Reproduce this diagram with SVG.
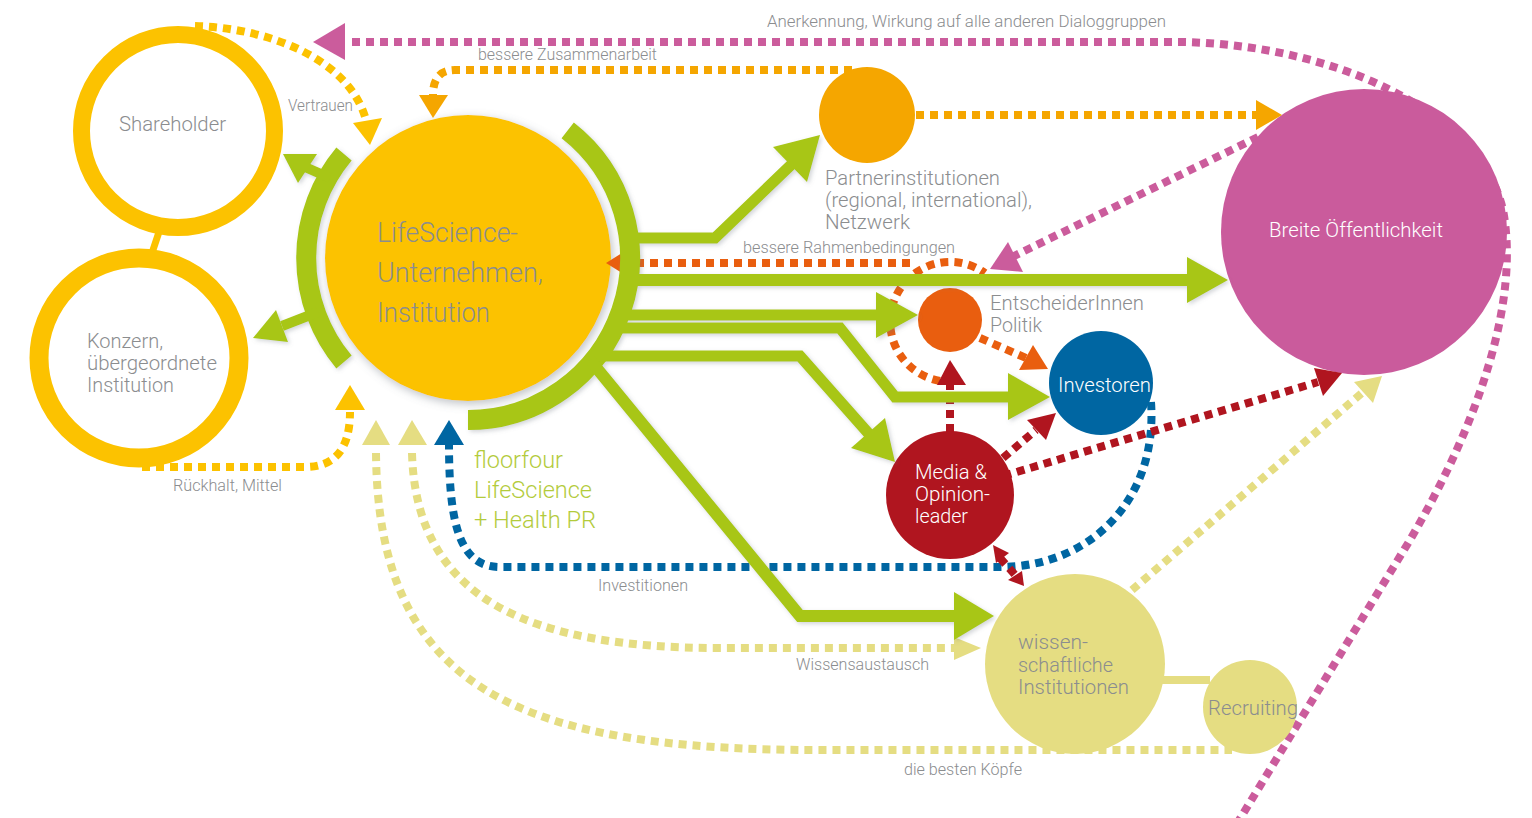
<svg xmlns="http://www.w3.org/2000/svg" width="1532" height="818" viewBox="0 0 1532 818">
<defs>
<style>
.t{font-family:Roboto,'Liberation Sans',Arial,sans-serif;font-weight:300;fill:#8b8d8f}
.lbl{font-size:16.5px}
.nd{font-size:20px}
.big{font-size:28px}
.wh{fill:#ffffff}
.gt{fill:#b3cb3c;font-size:23px}
.dot{fill:none;stroke-width:8;stroke-dasharray:8 6}
.pink{stroke:#cb5c9c}.pinkf{fill:#cb5c9c}
.amb{stroke:#f5a600}.ambf{fill:#f5a600}
.yel{stroke:#fcc200}.yelf{fill:#fcc200}
.lt{stroke:#e5dd82}.ltf{fill:#e5dd82}
.blu{stroke:#0066a2}.bluf{fill:#0066a2}
.org{stroke:#e95e0f}.orgf{fill:#e95e0f}
.red{stroke:#b0151f}.redf{fill:#b0151f}
.gs{fill:none;stroke:#a8c614;stroke-linejoin:miter}
.gf{fill:#a8c614}
</style>
<filter id="sh" x="-30%" y="-30%" width="160%" height="160%">
<feDropShadow dx="2" dy="3" stdDeviation="5" flood-color="#6f7780" flood-opacity="0.45"/>
</filter>
<filter id="gsh" x="-10%" y="-10%" width="120%" height="120%">
<feDropShadow dx="2" dy="2" stdDeviation="2" flood-color="#6f7780" flood-opacity="0.3"/>
</filter>
</defs>
<rect width="1532" height="818" fill="#ffffff"/>

<g id="connectors">
<g id="dotted-lines">
<path class="dot pink" d="M352 42 L1180 42 C1330 44 1480 110 1503 210 C1520 300 1480 420 1410 540 L1238 822"/>
<path class="dot pink" d="M1258 137 L1012 257"/>
<path class="dot amb" d="M852 70 L455 70 Q433 70 433 95"/>
<path class="dot amb" d="M916 115 L1256 115"/>
<path class="dot yel" d="M195 26 C270 28 350 60 366 120"/>
<path class="dot yel" d="M142 467 L305 467 Q350 467 350 412"/>
<path class="dot lt" d="M412 453 C416 600 530 648 720 648 L954 648"/>
<path class="dot lt" d="M376 453 C378 690 520 750 820 750 L1232 750"/>
<path class="dot lt" d="M1132 590 L1363 392"/>
<path class="dot blu" d="M1151 402 C1158 500 1090 567 1000 567 L500 567 C462 567 449 530 449 445"/>
<path class="dot org" d="M910 263 L622 263"/>
<path class="dot org" d="M940 381 A60 60 0 1 1 985 273"/>
<path class="dot org" d="M980 338 L1026 358"/>
<path class="dot red" d="M950 432 L950 385"/>
<path class="dot red" d="M1003 458 L1036 430"/>
<path class="dot red" d="M990 480 L1318 382"/>
<path class="dot red" d="M1000 558 L1016 576"/>
</g>
</g>

<g id="node-shareholder">
<circle cx="178" cy="131" r="96.5" fill="none" stroke="#fcc200" stroke-width="17"/>
<text class="t" x="119" y="131" font-size="21" textLength="107" lengthAdjust="spacingAndGlyphs">Shareholder</text>
</g>
<g id="node-konzern">
<line x1="159" y1="232" x2="152" y2="253" stroke="#fcc200" stroke-width="7"/>
<circle cx="139" cy="358" r="100" fill="none" stroke="#fcc200" stroke-width="19"/>
<text class="t nd" x="87" y="348" textLength="76" lengthAdjust="spacingAndGlyphs">Konzern,</text>
<text class="t nd" x="87" y="370" textLength="130" lengthAdjust="spacingAndGlyphs">übergeordnete</text>
<text class="t nd" x="87" y="392" textLength="87" lengthAdjust="spacingAndGlyphs">Institution</text>
</g>
<g id="node-lifescience">
<circle cx="468" cy="258" r="143" fill="#fcc200" filter="url(#sh)"/>
<text class="t big" x="377" y="242" textLength="141" lengthAdjust="spacingAndGlyphs">LifeScience-</text>
<text class="t big" x="377" y="282" textLength="166" lengthAdjust="spacingAndGlyphs">Unternehmen,</text>
<text class="t big" x="377" y="322" textLength="113" lengthAdjust="spacingAndGlyphs">Institution</text>
</g>
<g id="node-partner">
<circle cx="867" cy="115" r="48" fill="#f5a600"/>
<text class="t nd" x="825" y="185" textLength="175" lengthAdjust="spacingAndGlyphs">Partnerinstitutionen</text>
<text class="t nd" x="825" y="207" textLength="207" lengthAdjust="spacingAndGlyphs">(regional, international),</text>
<text class="t nd" x="825" y="229" textLength="85" lengthAdjust="spacingAndGlyphs">Netzwerk</text>
</g>
<g id="node-breite">
<circle cx="1364" cy="232" r="143" fill="#ca5b9c"/>
<text class="t nd wh" x="1269" y="237" textLength="174" lengthAdjust="spacingAndGlyphs">Breite Öffentlichkeit</text>
</g>
<g id="node-entscheider">
<circle cx="950" cy="320" r="32" fill="#e95e0f"/>
<text class="t nd" x="990" y="310" textLength="154" lengthAdjust="spacingAndGlyphs">EntscheiderInnen</text>
<text class="t nd" x="990" y="332" textLength="52" lengthAdjust="spacingAndGlyphs">Politik</text>
</g>
<g id="node-investoren">
<circle cx="1101" cy="383" r="52" fill="#0066a2"/>
<text class="t nd wh" x="1058" y="392" textLength="93" lengthAdjust="spacingAndGlyphs">Investoren</text>
</g>
<g id="node-media">
<circle cx="950" cy="495" r="64" fill="#b0151f"/>
<text class="t nd wh" x="915" y="479" textLength="72" lengthAdjust="spacingAndGlyphs">Media &amp;</text>
<text class="t nd wh" x="915" y="501" textLength="75" lengthAdjust="spacingAndGlyphs">Opinion-</text>
<text class="t nd wh" x="915" y="523" textLength="53" lengthAdjust="spacingAndGlyphs">leader</text>
</g>
<g id="node-wissenschaft">
<line x1="1160" y1="680" x2="1210" y2="680" stroke="#e5dd82" stroke-width="8"/>
<circle cx="1075" cy="664" r="90" fill="#e5dd82"/>
<text class="t nd" x="1018" y="649" textLength="70" lengthAdjust="spacingAndGlyphs">wissen-</text>
<text class="t nd" x="1018" y="672" textLength="95" lengthAdjust="spacingAndGlyphs">schaftliche</text>
<text class="t nd" x="1018" y="694" textLength="111" lengthAdjust="spacingAndGlyphs">Institutionen</text>
</g>
<g id="node-recruiting">
<circle cx="1250" cy="707" r="47" fill="#e5dd82"/>
<text class="t nd" x="1208" y="715" textLength="90" lengthAdjust="spacingAndGlyphs">Recruiting</text>
</g>
<g id="node-floorfour">
<text class="t gt" x="474" y="468" textLength="89" lengthAdjust="spacingAndGlyphs">floorfour</text>
<text class="t gt" x="474" y="498" textLength="118" lengthAdjust="spacingAndGlyphs">LifeScience</text>
<text class="t gt" x="474" y="528" textLength="122" lengthAdjust="spacingAndGlyphs">+ Health PR</text>
</g>

<g id="connector-heads">
<polygon class="pinkf" points="313,42 345,23 345,60"/>
<polygon class="pinkf" points="990,269 1008,242 1023,272"/>
<polygon class="ambf" points="419,95 448,95 433,118"/>
<polygon class="ambf" points="1256,100 1282,115 1256,130"/>
<polygon class="yelf" points="353,123 382,118 370,145"/>
<polygon class="yelf" points="335,410 365,410 350,385"/>
<polygon class="ltf" points="362,445 390,445 376,420"/>
<polygon class="ltf" points="398,445 427,445 412,420"/>
<polygon class="ltf" points="954,637 981,648 954,660"/>
<polygon class="ltf" points="1354,382 1373,403 1382,376"/>
<polygon class="bluf" points="434,445 464,445 449,420"/>
<polygon class="orgf" points="606,263 622,253 622,273"/>
<polygon class="orgf" points="1019,370 1033,345 1048,369"/>
<polygon class="redf" points="937,385 966,385 950,360"/>
<polygon class="redf" points="1027,420 1046,440 1056,413"/>
<polygon class="redf" points="1314,368 1323,396 1342,373"/>
<polygon class="redf" points="993,545 1009,553 996,563"/>
<polygon class="redf" points="1008,580 1022,571 1024,586"/>
</g>

<g id="green-arrows" filter="url(#gsh)">
<path class="gs" stroke-width="20" d="M567.7 130.3 A162 162 0 0 1 468 420"/>
<path class="gs" stroke-width="20" d="M344 362 A162 162 0 0 1 344 154"/>
<polyline class="gs" stroke-width="11" points="625,238 715,238 792,164"/>
<polygon class="gf" points="773,147 820,135 807,182"/>
<polyline class="gs" stroke-width="12" points="622,280 1190,280"/>
<polygon class="gf" points="1187,257 1228,280 1187,303"/>
<polyline class="gs" stroke-width="11" points="622,315 878,315"/>
<polygon class="gf" points="876,292 918,315 876,338"/>
<polyline class="gs" stroke-width="11" points="612,328 840,328 895,397 1010,397"/>
<polygon class="gf" points="1008,373 1050,397 1008,420"/>
<polyline class="gs" stroke-width="11" points="600,356 800,356 869,434"/>
<polygon class="gf" points="851,448 885,418 895,462"/>
<polyline class="gs" stroke-width="12" points="590,360 800,616 956,616"/>
<polygon class="gf" points="954,592 994,616 954,640"/>
<polyline class="gs" stroke-width="10" points="330,178 305,167"/>
<polygon class="gf" points="283,154 317,154 298,183"/>
<polyline class="gs" stroke-width="10" points="318,312 282,326"/>
<polygon class="gf" points="253,338 276,310 288,342"/>
</g>

<g id="labels">
<text class="t lbl" x="767" y="27" textLength="399" lengthAdjust="spacingAndGlyphs">Anerkennung, Wirkung auf alle anderen Dialoggruppen</text>
<text class="t lbl" x="478" y="60" textLength="179" lengthAdjust="spacingAndGlyphs">bessere Zusammenarbeit</text>
<text class="t lbl" x="288" y="111" textLength="65" lengthAdjust="spacingAndGlyphs">Vertrauen</text>
<text class="t lbl" x="743" y="253" textLength="212" lengthAdjust="spacingAndGlyphs">bessere Rahmenbedingungen</text>
<text class="t lbl" x="173" y="491" textLength="109" lengthAdjust="spacingAndGlyphs">Rückhalt, Mittel</text>
<text class="t lbl" x="598" y="591" textLength="90" lengthAdjust="spacingAndGlyphs">Investitionen</text>
<text class="t lbl" x="796" y="670" textLength="133" lengthAdjust="spacingAndGlyphs">Wissensaustausch</text>
<text class="t lbl" x="904" y="775" textLength="118" lengthAdjust="spacingAndGlyphs">die besten Köpfe</text>
</g>
</svg>
